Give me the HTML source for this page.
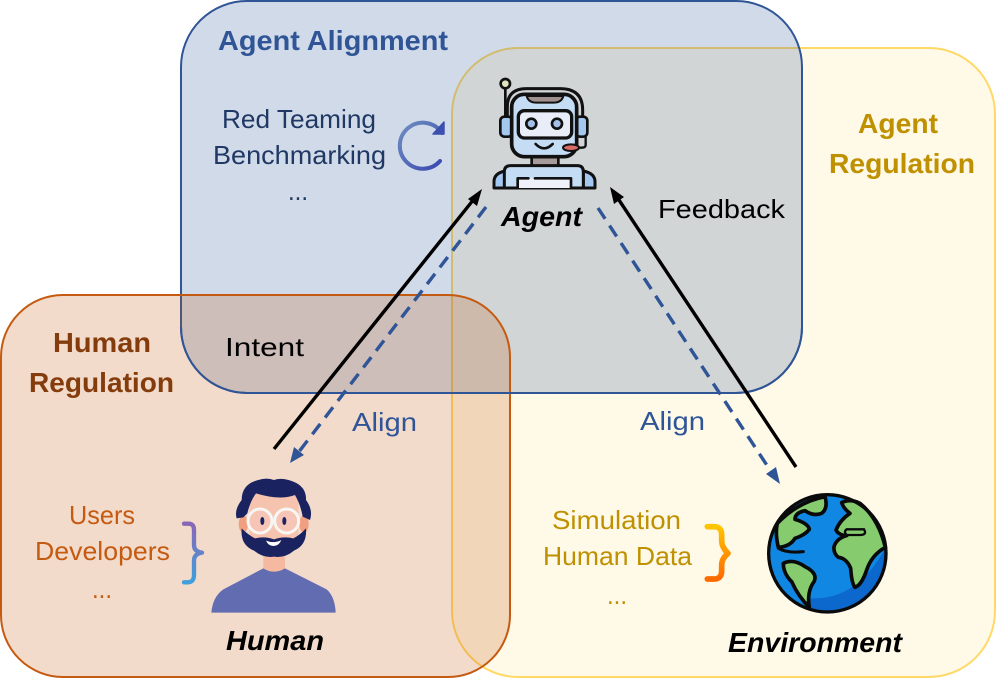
<!DOCTYPE html>
<html><head><meta charset="utf-8"><style>
html,body{margin:0;padding:0;background:#fff}
svg{display:block}
text{font-family:"Liberation Sans",sans-serif}
.t{font-size:26px}
.h{font-size:28px;font-weight:bold}
</style></head><body>
<svg width="996" height="678" viewBox="0 0 996 678" xmlns="http://www.w3.org/2000/svg">
<defs>
<linearGradient id="gb" x1="0" y1="0" x2="0" y2="1"><stop offset="0" stop-color="#8a66b8"/><stop offset="1" stop-color="#3fa0dc"/></linearGradient>
<linearGradient id="go" x1="0" y1="0" x2="0" y2="1"><stop offset="0" stop-color="#ffc400"/><stop offset="1" stop-color="#ff6a00"/></linearGradient>
<linearGradient id="gl" x1="0" y1="0" x2="1" y2="1"><stop offset="0" stop-color="#6f8fc0"/><stop offset="1" stop-color="#3a48b0"/></linearGradient>
</defs>
<!-- regions -->
<rect x="452" y="48" width="543" height="629" rx="66" fill="#ffd966" fill-opacity=".15" stroke="#ffd966" stroke-width="2"/>
<rect x="181" y="1" width="621" height="392" rx="66" fill="#2f5597" fill-opacity=".22" stroke="#2f5597" stroke-width="2"/>
<rect x="1" y="295" width="509" height="382" rx="62" fill="#c55a11" fill-opacity=".22" stroke="#c55a11" stroke-width="2"/>
<path d="M181 327 A66 66 0 0 0 247 393 H736 A66 66 0 0 0 802 327" fill="none" stroke="#2f5597" stroke-width="2"/>

<!-- text -->
<text x="218" y="50" class="h" textLength="230" lengthAdjust="spacingAndGlyphs" fill="#2f5597">Agent Alignment</text>
<text x="222" y="128" class="t" textLength="154" lengthAdjust="spacingAndGlyphs" fill="#1f3864">Red Teaming</text>
<text x="213" y="164" class="t" textLength="173" lengthAdjust="spacingAndGlyphs" fill="#1f3864">Benchmarking</text>
<text x="288" y="200" class="t" textLength="20" lengthAdjust="spacingAndGlyphs" fill="#1f3864">...</text>
<text x="858" y="133" class="h" textLength="80" lengthAdjust="spacingAndGlyphs" fill="#bf9000">Agent</text>
<text x="829" y="173" class="h" textLength="146" lengthAdjust="spacingAndGlyphs" fill="#bf9000">Regulation</text>
<text x="501" y="226" class="h" textLength="81" lengthAdjust="spacingAndGlyphs" font-style="italic" fill="#000">Agent</text>
<text x="658" y="218" class="t" textLength="127" lengthAdjust="spacingAndGlyphs" fill="#000">Feedback</text>
<text x="225" y="356" class="t" textLength="79" lengthAdjust="spacingAndGlyphs" fill="#000">Intent</text>
<text x="352" y="431" class="t" textLength="65" lengthAdjust="spacingAndGlyphs" fill="#2f5597">Align</text>
<text x="640" y="430" class="t" textLength="65" lengthAdjust="spacingAndGlyphs" fill="#2f5597">Align</text>
<text x="53" y="352" class="h" textLength="98" lengthAdjust="spacingAndGlyphs" fill="#843c0c">Human</text>
<text x="29" y="392" class="h" textLength="145" lengthAdjust="spacingAndGlyphs" fill="#843c0c">Regulation</text>
<text x="69" y="524" class="t" textLength="66" lengthAdjust="spacingAndGlyphs" fill="#c55a11">Users</text>
<text x="35" y="560" class="t" textLength="135" lengthAdjust="spacingAndGlyphs" fill="#c55a11">Developers</text>
<text x="92" y="598" class="t" textLength="20" lengthAdjust="spacingAndGlyphs" fill="#c55a11">...</text>
<text x="226" y="650" class="h" textLength="98" lengthAdjust="spacingAndGlyphs" font-style="italic" fill="#000">Human</text>
<text x="728" y="652" class="h" textLength="174" lengthAdjust="spacingAndGlyphs" font-style="italic" fill="#000">Environment</text>
<text x="552" y="529" class="t" textLength="129" lengthAdjust="spacingAndGlyphs" fill="#bf9000">Simulation</text>
<text x="543" y="565" class="t" textLength="149" lengthAdjust="spacingAndGlyphs" fill="#bf9000">Human Data</text>
<text x="607" y="604" class="t" textLength="20" lengthAdjust="spacingAndGlyphs" fill="#bf9000">...</text>

<!-- arrows -->
<line x1="274" y1="449" x2="474" y2="199" stroke="#000" stroke-width="3.4"/>
<polygon points="482,189 477,206 468,199" fill="#000"/>
<line x1="486" y1="207" x2="298" y2="453" stroke="#2f5597" stroke-width="3.4" stroke-dasharray="13 8"/>
<polygon points="290,463 294,447 304,455" fill="#2f5597"/>
<line x1="796" y1="467" x2="617" y2="197" stroke="#000" stroke-width="3.4"/>
<polygon points="610,187 624,197 614,204" fill="#000"/>
<line x1="598" y1="208" x2="772" y2="473" stroke="#2f5597" stroke-width="3.4" stroke-dasharray="13 8"/>
<polygon points="780,484 766,474 776,467" fill="#2f5597"/>

<!-- loop -->
<path d="M440 161 A23 23 0 1 1 442 133" fill="none" stroke="url(#gl)" stroke-width="4" stroke-linecap="round"/>
<path d="M444 122 V134 H433 Z" fill="#3d50b0" stroke="#3d50b0" stroke-width="1.500" stroke-linejoin="round"/>

<!-- robot -->
<g transform="translate(470 60) scale(.33333)" stroke="#111" stroke-width="11" stroke-linejoin="round" stroke-linecap="round">
<line x1="106" y1="85" x2="106" y2="175" stroke-width="8"/>
<circle cx="106" cy="71" r="14" fill="#dfe3c0" stroke-width="8"/>
<path d="M112 170 V140 Q112 86 170 86 H270 Q338 86 338 150 V170" fill="none" stroke-width="9"/>
<rect x="91" y="170" width="36" height="60" rx="12" fill="#a5c8f0" stroke-width="8"/>
<rect x="318" y="170" width="34" height="60" rx="12" fill="#a5c8f0" stroke-width="8"/>
<rect x="185" y="285" width="80" height="35" fill="#a79a9a" stroke-width="8"/>
<path d="M72 384 V365 Q72 340 105 333 V384 Z" fill="#a5c8f0" stroke-width="9"/>
<path d="M375 384 V365 Q375 340 340 333 V384 Z" fill="#a5c8f0" stroke-width="9"/>
<path d="M103 384 V335 Q103 317 122 317 H322 Q340 317 340 335 V384 Z" fill="#c5dcf5" stroke-width="9"/>
<rect x="143" y="355" width="160" height="29" fill="#eef1fa" stroke="none"/>
<path d="M143 384 V355 H175 M195 355 H303 V384" fill="none" stroke-width="8"/>
<rect x="125" y="103" width="195" height="187" rx="38" fill="#c5dcf5"/>
<path d="M170 108 H280 Q275 128 250 128 H200 Q175 128 170 108 Z" fill="#a08f8f" stroke-width="6"/>
<rect x="145" y="152" width="160" height="82" rx="18" fill="#e9edf8" stroke-width="10"/>
<circle cx="184" cy="191" r="15" fill="#a5c0e8" stroke-width="8"/>
<circle cx="261" cy="191" r="15" fill="#a5c0e8" stroke-width="8"/>
<path d="M197 252 Q222 278 248 252" fill="none" stroke-width="8"/>
<path d="M347 230 V255 Q347 263 335 263 H325" fill="none" stroke-width="7"/>
<ellipse cx="303" cy="263" rx="24" ry="10" fill="#d96a66" stroke-width="6"/>
</g>

<!-- human -->
<g transform="translate(170 460) scale(.33333)">
<path d="M124 458 Q128 410 160 388 L280 325 H345 L470 388 Q495 410 497 458 Z" fill="#626cb0"/>
<path d="M280 280 H345 V325 Q312 345 280 325 Z" fill="#f4b9a0"/>
<ellipse cx="220" cy="192" rx="14" ry="26" fill="#f0a080"/>
<ellipse cx="402" cy="192" rx="14" ry="26" fill="#f0a080"/>
<path d="M238 100 H385 V220 Q375 290 312 290 Q250 290 238 220 Z" fill="#f6c3ae"/>
<path d="M215 205 Q235 225 255 235 Q285 228 312 238 Q340 228 370 235 Q390 225 408 205 Q412 255 372 272 Q345 295 312 290 Q280 295 252 272 Q210 255 215 205 Z" fill="#1a2260"/>
<path d="M288 242 Q312 252 334 240 Q327 258 310 258 Q295 258 288 242 Z" fill="#fff"/>
<path d="M200 175 Q192 150 215 120 Q215 72 265 60 Q290 52 312 60 Q335 52 368 64 Q410 80 408 120 Q430 150 420 180 L398 170 Q392 135 375 105 Q330 122 258 100 Q240 125 232 160 L220 172 Z" fill="#1a2260"/>
<circle cx="270" cy="183" r="36" fill="#f7c8c0" fill-opacity=".5" stroke="#f8f6f2" stroke-width="9"/>
<circle cx="350" cy="183" r="36" fill="#f7c8c0" fill-opacity=".5" stroke="#f8f6f2" stroke-width="9"/>
<ellipse cx="277" cy="183" rx="6" ry="12" fill="#1a2260"/>
<ellipse cx="343" cy="183" rx="6" ry="12" fill="#1a2260"/>
</g>
<path transform="translate(170 460) scale(.33333)" d="M42 191 H56 Q72 191 72 210 V255 Q72 275 96 278 Q72 282 72 302 V345 Q72 367 52 367 H42" fill="none" stroke="url(#gb)" stroke-width="13" stroke-linecap="round" stroke-linejoin="round"/>

<!-- earth + brace -->
<g transform="translate(690 470) scale(.33333)">
<path d="M52 170 H72 Q95 170 95 195 V212 Q95 232 114 250 Q95 266 95 285 V302 Q95 327 72 327 H52" fill="none" stroke="url(#go)" stroke-width="17" stroke-linecap="round" stroke-linejoin="round"/>
<circle cx="412" cy="250" r="178" fill="#1187e4"/>
<path d="M586 235 A175 175 0 0 1 360 418 Q350 395 365 385 Q500 390 586 235 Z" fill="#0c68cc"/>
<g fill="#86cc6e" stroke="#0a0a0a" stroke-width="11" stroke-linejoin="round" stroke-linecap="round">
<path d="M262 160 Q325 95 405 80 Q415 115 395 130 Q370 140 345 122 Q315 128 315 148 Q355 160 358 178 Q345 195 315 205 Q300 230 265 232 Q255 190 262 160 Z"/>
<path d="M455 98 Q480 85 510 100 Q565 145 586 232 Q545 255 530 300 Q515 345 495 352 Q485 340 482 295 Q470 265 445 262 Q430 250 432 230 Q440 205 470 197 Q445 195 438 180 Q450 150 480 130 Q460 115 455 98 Z"/>
<path d="M280 280 Q310 265 345 290 Q385 310 372 335 Q350 365 358 412 Q325 380 305 335 Q280 310 280 280 Z"/>
</g>
<path d="M470 178 H522 Q532 195 510 195 H470 Q460 185 470 178 Z" fill="#86cc6e" stroke="#0a0a0a" stroke-width="7"/>
<path d="M265 235 Q290 250 340 245" fill="none" stroke="#0a0a0a" stroke-width="9" stroke-linecap="round"/>
<circle cx="412" cy="250" r="176" fill="none" stroke="#0a0a0a" stroke-width="10"/>
</g>
</svg>
</body></html>
